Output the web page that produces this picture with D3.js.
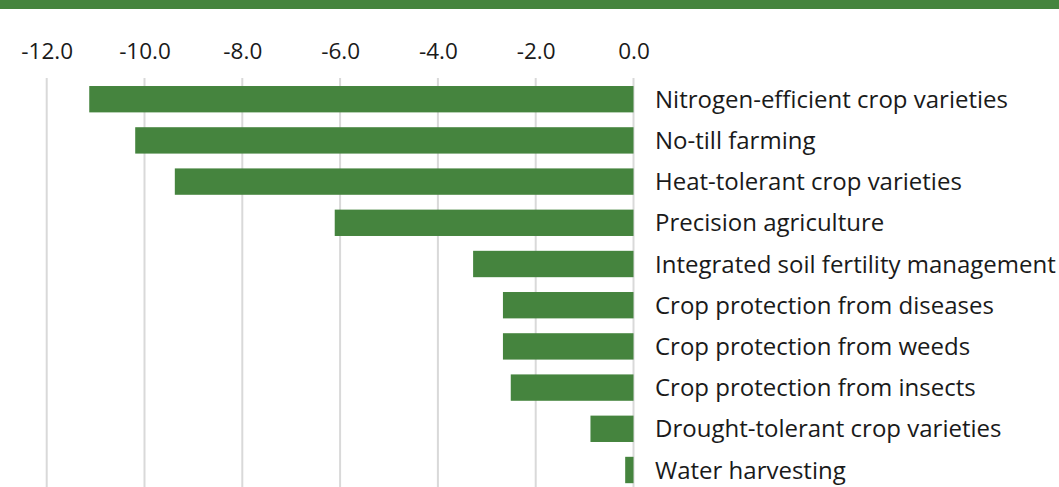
<!DOCTYPE html>
<html>
<head>
<meta charset="utf-8">
<script src="https://cdn.jsdelivr.net/npm/d3@7/dist/d3.min.js"></script>
<style>
  html, body { margin: 0; padding: 0; background: #ffffff; }
  svg { display: block; }
</style>
</head>
<body>
<svg id="chart" width="1059" height="487"></svg>
<script>
// ---- data ----
const categories = [
  "Nitrogen-efficient crop varieties",
  "No-till farming",
  "Heat-tolerant crop varieties",
  "Precision agriculture",
  "Integrated soil fertility management",
  "Crop protection from diseases",
  "Crop protection from weeds",
  "Crop protection from insects",
  "Drought-tolerant crop varieties",
  "Water harvesting"
];
const values = [-11.13, -10.19, -9.38, -6.11, -3.28, -2.67, -2.67, -2.51, -0.88, -0.17];
const tickValues = [-12, -10, -8, -6, -4, -2, 0];

// ---- layout ----
const W = 1059, H = 487;
const green = "#45843e";
const fontFamily = "'Open Sans', sans-serif";

const svg = d3.select("#chart");

const x = d3.scaleLinear().domain([-12, 0]).range([46.7, 633.5]);
const y = d3.scaleBand().domain(categories).range([78.6, 490.6])
  .paddingInner(0.36).paddingOuter(0.18);

const locale = d3.formatLocale({decimal: ".", thousands: ",", grouping: [3], currency: ["", ""], minus: "-"});
const fmt = locale.format(".1f");

// header band
svg.append("rect").attr("x", 0).attr("y", 0).attr("width", W).attr("height", 9).attr("fill", green);

// gridlines
svg.append("g").selectAll("line").data(tickValues).join("line")
  .attr("x1", d => x(d)).attr("x2", d => x(d))
  .attr("y1", 78).attr("y2", H)
  .attr("stroke", "#d9d9d9").attr("stroke-width", 2);

// top axis
const axis = svg.append("g").attr("transform", "translate(0,58.5)")
  .call(d3.axisTop(x).tickValues(tickValues).tickFormat(fmt).tickSize(0).tickPadding(0));
axis.select(".domain").remove();
axis.selectAll("text")
  .attr("font-family", fontFamily).attr("font-size", 22.5).attr("fill", "#1a1a1a")
  .attr("dy", 0);

// bars
svg.append("g").selectAll("rect").data(values).join("rect")
  .attr("x", d => x(d))
  .attr("y", (d, i) => y(categories[i]))
  .attr("width", d => x(0) - x(d))
  .attr("height", y.bandwidth())
  .attr("fill", green);

// labels
svg.append("g").selectAll("text").data(categories).join("text")
  .attr("x", 655)
  .attr("y", d => y(d) + y.bandwidth() / 2)
  .attr("dy", "0.36em")
  .attr("font-family", fontFamily).attr("font-size", 24).attr("fill", "#1a1a1a")
  .text(d => d);
</script>
</body>
</html>
